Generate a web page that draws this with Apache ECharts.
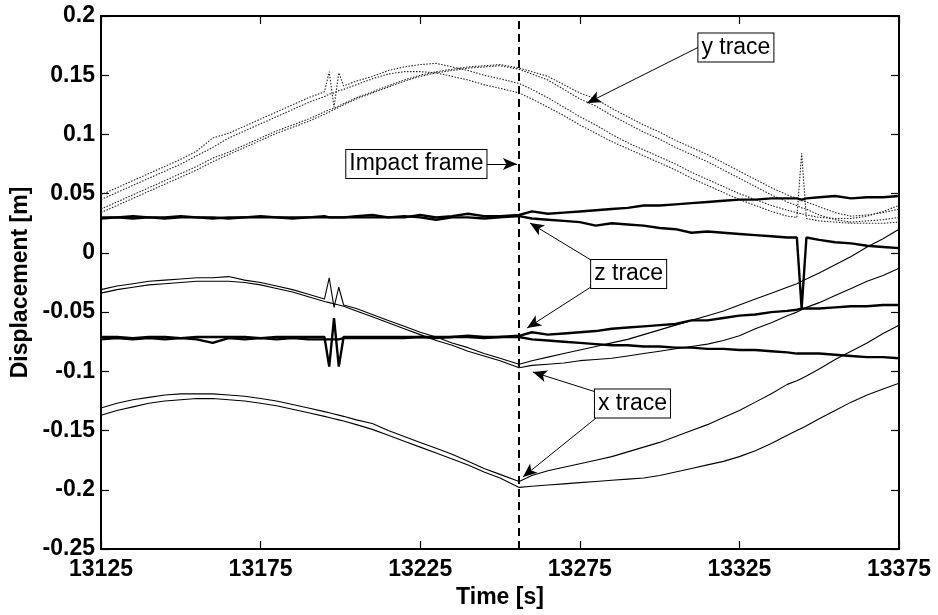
<!DOCTYPE html>
<html><head><meta charset="utf-8">
<script src="https://cdn.jsdelivr.net/npm/echarts@6/dist/echarts.min.js"></script>
<style>html,body{margin:0;padding:0;background:#fff}#c{width:938px;height:615px}</style>
</head><body><div id="c"></div>
<script>
// ---- data ----
const time = [
 13125,13130,13135,13140,13145,13150,13155,13160,13165,13170,
 13175,13180,13185,13190,13195,13196.5,13198,13199.5,13201,13205,
 13210,13215,13220,13225,13230,13235,13240,13245,13250,13256,
 13260,13265,13270,13275,13280,13285,13290,13295,13300,13305,
 13310,13315,13320,13325,13330,13335,13340,13343,13344.5,13346,
 13350,13355,13360,13365,13370,13375];

const xTraceA = [
 -0.031,-0.028,-0.026,-0.024,-0.023,-0.022,-0.021,-0.021,-0.020,-0.023,
 -0.025,-0.028,-0.031,-0.035,-0.039,-0.021,-0.046,-0.029,-0.044,-0.047,
 -0.052,-0.057,-0.062,-0.067,-0.071,-0.076,-0.080,-0.085,-0.089,-0.094,
 -0.091,-0.088,-0.085,-0.082,-0.079,-0.076,-0.073,-0.069,-0.065,-0.061,
 -0.057,-0.053,-0.049,-0.044,-0.039,-0.034,-0.029,-0.026,-0.024,-0.022,
 -0.017,-0.010,-0.003,0.005,0.012,0.020];
const xTraceB = [
 -0.034,-0.031,-0.029,-0.027,-0.026,-0.025,-0.024,-0.024,-0.024,-0.025,
 -0.027,-0.030,-0.033,-0.037,-0.041,-0.042,-0.043,-0.044,-0.045,-0.049,
 -0.054,-0.059,-0.064,-0.069,-0.074,-0.078,-0.083,-0.087,-0.091,-0.097,
 -0.095,-0.094,-0.093,-0.091,-0.090,-0.089,-0.087,-0.085,-0.083,-0.081,
 -0.079,-0.077,-0.074,-0.070,-0.064,-0.059,-0.053,-0.050,-0.048,-0.046,
 -0.042,-0.036,-0.030,-0.024,-0.019,-0.013];
const xTraceC = [
 -0.131,-0.127,-0.124,-0.122,-0.120,-0.119,-0.119,-0.119,-0.120,-0.121,
 -0.123,-0.125,-0.128,-0.131,-0.134,-0.135,-0.136,-0.137,-0.138,-0.141,
 -0.144,-0.150,-0.155,-0.160,-0.165,-0.170,-0.176,-0.182,-0.187,-0.193,
 -0.188,-0.184,-0.181,-0.178,-0.175,-0.172,-0.168,-0.164,-0.160,-0.155,
 -0.150,-0.145,-0.139,-0.133,-0.126,-0.119,-0.111,-0.108,-0.106,-0.104,
 -0.098,-0.090,-0.083,-0.076,-0.068,-0.061];
const xTraceD = [
 -0.137,-0.133,-0.130,-0.127,-0.125,-0.124,-0.123,-0.123,-0.124,-0.125,
 -0.127,-0.129,-0.132,-0.135,-0.138,-0.139,-0.140,-0.141,-0.142,-0.145,
 -0.149,-0.154,-0.159,-0.164,-0.169,-0.174,-0.179,-0.185,-0.190,-0.198,
 -0.197,-0.196,-0.195,-0.194,-0.193,-0.192,-0.191,-0.190,-0.188,-0.185,
 -0.182,-0.179,-0.176,-0.172,-0.167,-0.161,-0.154,-0.150,-0.148,-0.146,
 -0.140,-0.133,-0.126,-0.120,-0.115,-0.110];

const zTraceA = [
 0.030,0.030,0.031,0.030,0.030,0.031,0.030,0.029,0.030,0.030,
 0.031,0.030,0.030,0.030,0.031,0.030,0.030,0.030,0.030,0.031,
 0.032,0.030,0.030,0.032,0.030,0.031,0.033,0.031,0.031,0.032,
 0.035,0.033,0.034,0.035,0.036,0.037,0.038,0.040,0.040,0.041,
 0.042,0.043,0.044,0.045,0.045,0.046,0.046,0.046,0.045,0.046,
 0.047,0.048,0.046,0.047,0.047,0.048];
const zTraceB = [
 0.029,0.030,0.029,0.030,0.029,0.030,0.030,0.030,0.029,0.030,
 0.030,0.030,0.029,0.030,0.030,0.030,0.030,0.030,0.030,0.030,
 0.030,0.030,0.031,0.030,0.028,0.030,0.030,0.029,0.030,0.031,
 0.029,0.028,0.027,0.026,0.023,0.025,0.024,0.023,0.021,0.020,
 0.017,0.018,0.017,0.016,0.015,0.014,0.013,0.013,-0.047,0.013,
 0.011,0.009,0.008,0.006,0.005,0.004];
const zTraceC = [
 -0.071,-0.071,-0.072,-0.071,-0.071,-0.072,-0.071,-0.071,-0.071,-0.071,
 -0.072,-0.071,-0.071,-0.071,-0.071,-0.096,-0.055,-0.096,-0.071,-0.071,
 -0.071,-0.071,-0.071,-0.071,-0.071,-0.071,-0.070,-0.071,-0.071,-0.070,
 -0.067,-0.069,-0.068,-0.067,-0.066,-0.064,-0.063,-0.062,-0.061,-0.060,
 -0.057,-0.057,-0.055,-0.053,-0.052,-0.050,-0.049,-0.048,-0.047,-0.047,
 -0.047,-0.046,-0.045,-0.045,-0.044,-0.044];
const zTraceD = [
 -0.073,-0.072,-0.073,-0.072,-0.073,-0.072,-0.073,-0.076,-0.072,-0.073,
 -0.072,-0.073,-0.072,-0.073,-0.073,-0.073,-0.073,-0.073,-0.072,-0.072,
 -0.072,-0.072,-0.072,-0.071,-0.072,-0.071,-0.071,-0.072,-0.071,-0.071,
 -0.073,-0.074,-0.075,-0.076,-0.077,-0.078,-0.078,-0.079,-0.079,-0.080,
 -0.080,-0.081,-0.081,-0.082,-0.082,-0.083,-0.084,-0.085,-0.085,-0.085,
 -0.085,-0.086,-0.087,-0.088,-0.088,-0.089];

const yTraceA = [
 0.049,0.055,0.061,0.067,0.073,0.079,0.086,0.097,0.101,0.107,
 0.113,0.119,0.125,0.131,0.136,0.153,0.123,0.152,0.141,0.145,
 0.149,0.154,0.157,0.159,0.160,0.157,0.154,0.150,0.147,0.143,
 0.138,0.131,0.123,0.115,0.108,0.100,0.093,0.087,0.081,0.075,
 0.068,0.062,0.056,0.050,0.045,0.040,0.036,0.034,0.033,0.032,
 0.030,0.029,0.029,0.031,0.035,0.040];
const yTraceB = [
 0.045,0.051,0.057,0.063,0.069,0.075,0.082,0.089,0.097,0.103,
 0.109,0.115,0.121,0.127,0.132,0.134,0.135,0.137,0.138,0.142,
 0.147,0.151,0.153,0.153,0.152,0.149,0.146,0.142,0.139,0.135,
 0.130,0.123,0.116,0.108,0.101,0.094,0.088,0.082,0.076,0.070,
 0.063,0.057,0.051,0.045,0.040,0.035,0.031,0.030,0.084,0.029,
 0.027,0.026,0.025,0.025,0.025,0.026];
const yTraceC = [
 0.037,0.043,0.049,0.055,0.061,0.067,0.073,0.080,0.085,0.091,
 0.097,0.103,0.108,0.113,0.119,0.121,0.122,0.124,0.126,0.131,
 0.136,0.141,0.146,0.150,0.153,0.155,0.157,0.158,0.159,0.156,
 0.153,0.149,0.142,0.135,0.130,0.122,0.115,0.108,0.102,0.095,
 0.089,0.083,0.076,0.069,0.062,0.055,0.049,0.046,0.044,0.043,
 0.039,0.034,0.031,0.032,0.034,0.037];
const yTraceD = [
 0.034,0.040,0.046,0.052,0.058,0.064,0.070,0.077,0.083,0.089,
 0.095,0.101,0.106,0.111,0.117,0.119,0.121,0.123,0.125,0.130,
 0.135,0.140,0.145,0.149,0.152,0.154,0.156,0.157,0.158,0.155,
 0.151,0.146,0.138,0.130,0.124,0.116,0.109,0.102,0.096,0.089,
 0.083,0.077,0.070,0.063,0.056,0.049,0.043,0.040,0.038,0.037,
 0.032,0.028,0.026,0.027,0.028,0.030];

const xTicks = [13125,13175,13225,13275,13325,13375];
const yTicks = [-0.25,-0.2,-0.15,-0.1,-0.05,0,0.05,0.1,0.15,0.2];
const impactTime = 13256;
const labelTexts = ['Impact frame','y trace','z trace','x trace'];

// ---- annotation anchors (data coordinates) ----
const labelAnchors = [[13223.8,0.075],[13323.9,0.1734],[13290.3,-0.0178],[13291.5,-0.1272]];
const arrowPaths = [
  [[13245.9,0.075],[13255.3,0.075]],
  [[13312.3,0.1738],[13277.3,0.1265]],
  [[13278.5,-0.006],[13259.4,0.0252]],
  [[13278.5,-0.0288],[13258.5,-0.0634]],
  [[13280.1,-0.1175],[13260.3,-0.1006]],
  [[13280.1,-0.1394],[13257.2,-0.1892]]
];

const FONT = 'Arial, "Liberation Sans", Helvetica, sans-serif';
function pts(a){ return time.map((t,i)=>[t,a[i]]); }

const chart = echarts.init(document.getElementById('c'), null, {renderer:'canvas'});

function trace(arr, kind){
  const st = kind==='z' ? {color:'#000', width:2.4}
           : kind==='x' ? {color:'#000', width:1.1}
           : {color:'#222', width:1.1, type:[1.5,1.5]};
  return {type:'line', data:pts(arr), showSymbol:false, symbol:'none', lineStyle:st,
          silent:true, animation:false, z:kind==='z'?3:2};
}

const series = [
  trace(yTraceA,'y'), trace(yTraceB,'y'), trace(yTraceC,'y'), trace(yTraceD,'y'),
  trace(xTraceA,'x'), trace(xTraceB,'x'), trace(xTraceC,'x'), trace(xTraceD,'x'),
  trace(zTraceA,'z'), trace(zTraceB,'z'), trace(zTraceC,'z'), trace(zTraceD,'z')
];

// annotation series
series.push({
  type:'line', data:[], silent:true, animation:false, z:10,
  markLine:{
    silent:true, animation:false, symbol:['none','arrow'], symbolSize:[9,14],
    label:{show:false},
    lineStyle:{color:'#000', width:1, type:'solid'},
    emphasis:{disabled:true},
    data: arrowPaths.map(p=>[{coord:p[0]},{coord:p[1]}]).concat([
      [{coord:[impactTime,-0.25], symbol:'none', lineStyle:{type:[8,5], width:2, color:'#000'}},
       {coord:[impactTime,0.2], symbol:'none'}]
    ])
  },
  markPoint:{
    silent:true, animation:false, symbol:'circle', symbolSize:1,
    itemStyle:{color:'rgba(0,0,0,0)'},
    label:{show:true, position:'inside', formatter:'{b}', fontFamily:FONT, fontSize:23,
           color:'#000', backgroundColor:'#fff', borderColor:'#000', borderWidth:1,
           padding:[3,3,2,3]},
    data: labelTexts.map((s,i)=>({name:s, coord:labelAnchors[i]}))
  }
});

const axisLineStyle = {show:true, onZero:false, lineStyle:{color:'#000', width:2}};
const tickStyle = {show:true, inside:true, length:8, lineStyle:{color:'#000', width:1.2}};
const labelFont = {fontFamily:FONT, fontSize:23, fontWeight:'bold', color:'#000'};

chart.setOption({
  animation:false,
  backgroundColor:'#fff',
  grid:{left:101, right:39, top:16, bottom:66, containLabel:false},
  xAxis:[
    {type:'value', min:13125, max:13375, position:'bottom',
     axisLine:axisLineStyle,
     axisTick:Object.assign({customValues:xTicks}, tickStyle),
     axisLabel:Object.assign({customValues:xTicks, margin:9, showMinLabel:true, showMaxLabel:true,
       hideOverlap:false, formatter:v=>String(v)}, labelFont),
     splitLine:{show:false},
     name:'Time [s]', nameLocation:'middle', nameGap:31,
     nameTextStyle:labelFont},
    {type:'value', min:13125, max:13375, position:'top',
     axisLine:axisLineStyle,
     axisTick:Object.assign({customValues:xTicks}, tickStyle),
     axisLabel:{show:false}, splitLine:{show:false}}
  ],
  yAxis:[
    {type:'value', min:-0.25, max:0.2, position:'left',
     axisLine:axisLineStyle,
     axisTick:Object.assign({customValues:yTicks}, tickStyle),
     axisLabel:Object.assign({customValues:yTicks, margin:6, showMinLabel:true, showMaxLabel:true,
       hideOverlap:false, formatter:v=>String(v)}, labelFont),
     splitLine:{show:false},
     name:'Displacement [m]', nameLocation:'middle', nameGap:66, nameRotate:90,
     nameTextStyle:labelFont},
    {type:'value', min:-0.25, max:0.2, position:'right',
     axisLine:axisLineStyle,
     axisTick:Object.assign({customValues:yTicks}, tickStyle),
     axisLabel:{show:false}, splitLine:{show:false}}
  ],
  series: series
});
</script>
</body></html>
